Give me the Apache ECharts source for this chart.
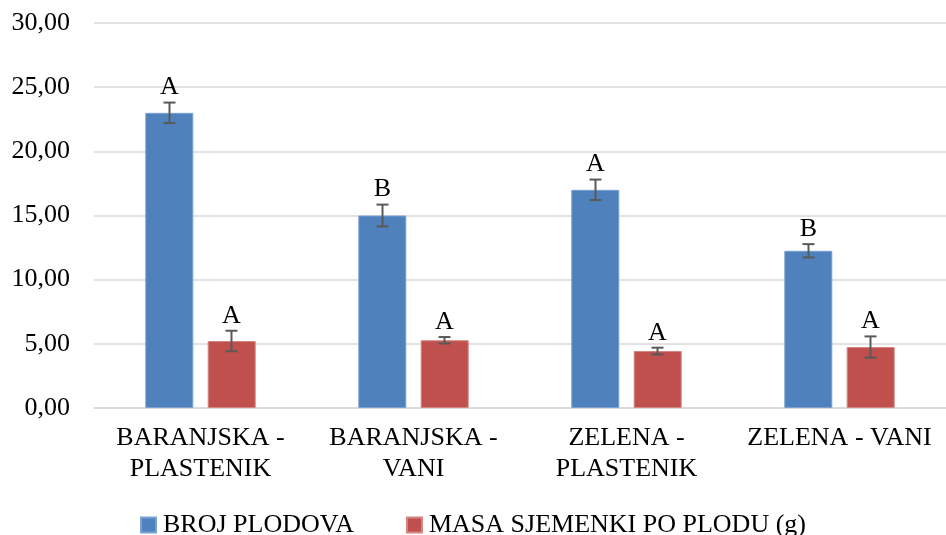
<!DOCTYPE html>
<html>
<head>
<meta charset="utf-8">
<script src="https://cdn.jsdelivr.net/npm/echarts@6/dist/echarts.min.js"></script>
<style>
  html, body { margin: 0; padding: 0; background: #fff; }
  #chart { width: 946px; height: 535px; }
</style>
</head>
<body>
<div id="chart"></div>
<script>
const categories = ['BARANJSKA -\nPLASTENIK', 'BARANJSKA -\nVANI', 'ZELENA -\nPLASTENIK', 'ZELENA - VANI']
const brojPlodova = [23.0, 15.0, 17.0, 12.25]
const brojErr = [0.8, 0.85, 0.8, 0.52]
const brojLetters = ['A', 'B', 'A', 'B']
const masaSjemenki = [5.22, 5.28, 4.44, 4.75]
const masaErr = [0.8, 0.25, 0.26, 0.83]
const masaLetters = ['A', 'A', 'A', 'A']

const BAR_W = 48
const OFFSET = 31
const FONT = '"Liberation Serif", "Times New Roman", serif'

const chart = echarts.init(document.getElementById('chart'))

// error bar + letter drawn around the bar top
const errorSeries = (values, errs, letters, shift) => ({
  type: 'custom',
  silent: true,
  z: 5,
  data: values.map((v, i) => [i, v - errs[i], v + errs[i]]),
  renderItem: (params, api) => {
    const i = api.value(0)
    const lo = api.coord([i, api.value(1)])
    const hi = api.coord([i, api.value(2)])
    const x = lo[0] + shift
    const cap = 6
    const st = { stroke: '#595959', lineWidth: 2 }
    return {
      type: 'group',
      children: [
        { type: 'line', shape: { x1: x, y1: lo[1], x2: x, y2: hi[1] }, style: st },
        { type: 'line', shape: { x1: x - cap, y1: lo[1], x2: x + cap, y2: lo[1] }, style: st },
        { type: 'line', shape: { x1: x - cap, y1: hi[1], x2: x + cap, y2: hi[1] }, style: st },
        {
          type: 'text',
          style: {
            text: letters[params.dataIndex],
            x: x,
            y: hi[1] - 2,
            align: 'center',
            verticalAlign: 'bottom',
            fontSize: 26,
            fontFamily: FONT,
            fill: '#000'
          }
        }
      ]
    }
  }
})

const options = {
  animation: false,
  textStyle: { fontFamily: FONT },
  grid: {
    left: 94,
    right: 0,
    top: 23,
    bottom: 127
  },
  legend: {
    top: 507,
    left: 'center',
    itemWidth: 15,
    itemHeight: 15,
    itemGap: 52,
    icon: 'rect',
    textStyle: { fontSize: 26, color: '#000', fontFamily: FONT, padding: [0, 0, 0, 2] },
    data: ['BROJ PLODOVA', 'MASA SJEMENKI PO PLODU (g)']
  },
  xAxis: {
    type: 'category',
    data: categories,
    axisTick: { show: false },
    axisLine: { lineStyle: { color: '#d9d9d9', width: 1.5 } },
    axisLabel: {
      color: '#000',
      fontSize: 26,
      fontFamily: FONT,
      lineHeight: 31,
      margin: 15,
      interval: 0
    }
  },
  yAxis: {
    type: 'value',
    min: 0,
    max: 30,
    interval: 5,
    axisLine: { show: false },
    axisTick: { show: false },
    splitLine: { lineStyle: { color: '#d9d9d9', width: 1.5 } },
    axisLabel: {
      color: '#000',
      fontSize: 26,
      fontFamily: FONT,
      margin: 24,
      formatter: (v) => v.toFixed(2).replace('.', ',')
    }
  },
  series: [
    {
      name: 'BROJ PLODOVA',
      type: 'bar',
      data: brojPlodova,
      barWidth: BAR_W,
      barGap: '30%',
      itemStyle: { color: '#4f81bd', borderColor: '#7aa1d2', borderWidth: 1 }
    },
    {
      name: 'MASA SJEMENKI PO PLODU (g)',
      type: 'bar',
      data: masaSjemenki,
      barWidth: BAR_W,
      itemStyle: { color: '#c0504d', borderColor: '#d48582', borderWidth: 1 }
    },
    errorSeries(brojPlodova, brojErr, brojLetters, -OFFSET),
    errorSeries(masaSjemenki, masaErr, masaLetters, OFFSET)
  ]
}
chart.setOption(options)
</script>
</body>
</html>
